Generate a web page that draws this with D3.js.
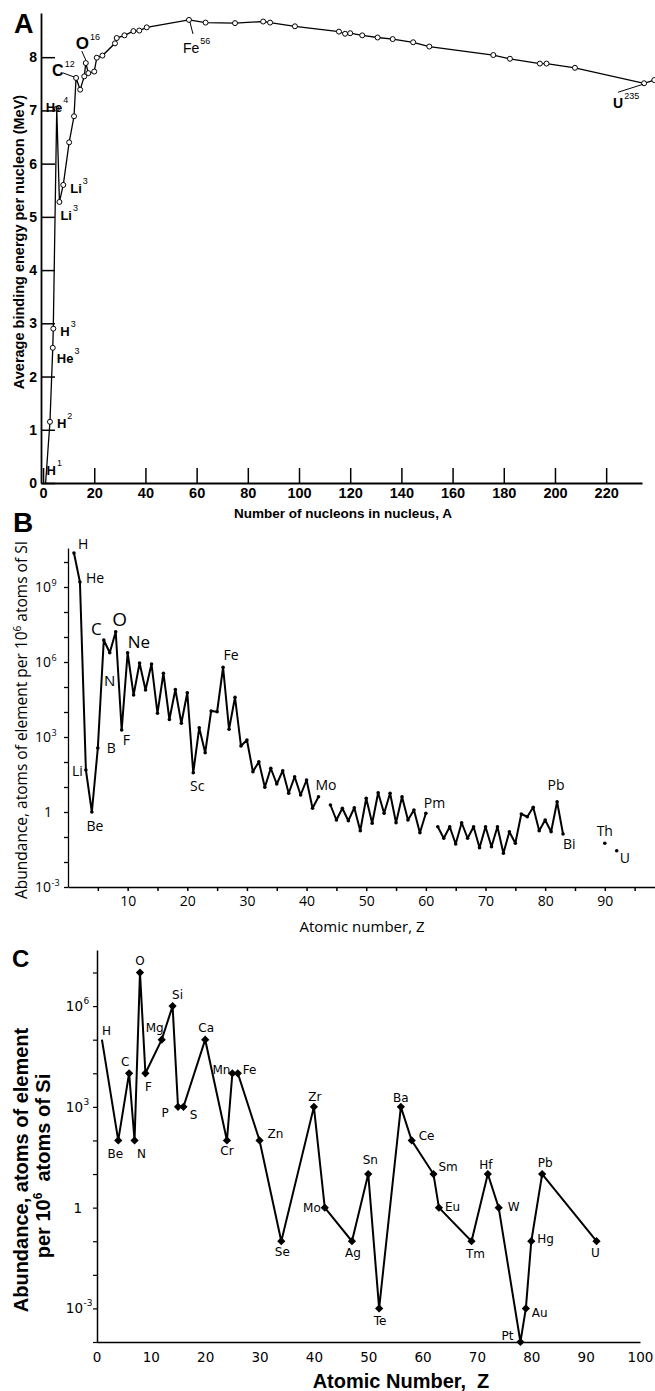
<!DOCTYPE html>
<html>
<head>
<meta charset="utf-8">
<script src="https://cdn.jsdelivr.net/npm/d3@7"></script>
<style>
  body { margin: 0; background: #fff; }
  svg { display: block; }
  text { fill: #000; }
  .bold { font-family: "Liberation Sans", Arial, sans-serif; font-weight: bold; }
  .myr { font-family: "Open Sans", sans-serif; }
  .dv { font-family: "DejaVu Sans", sans-serif; }
</style>
</head>
<body>
<svg id="fig" width="655" height="1391"></svg>
<script>
// ---------- panel A : binding energy per nucleon ----------
var aMass = [1, 2.7, 3.8, 4, 5.35, 6.4, 7.9, 10.2, 12.1, 12.9, 14.5, 16.1, 16.7, 17.7, 20, 21, 23.2,
  28.1, 28.8, 31.8, 35.3, 37.6, 40.5, 57, 63.5, 75, 86, 88.7, 98.4, 115.6, 118, 120, 124.7, 130.7,
  136.6, 144.6, 150.9, 175.9, 182.4, 194.1, 196.7, 207.8, 234.8, 238.8];
var aEnergy = [0, 1.15, 2.54, 2.9, 7.03, 5.28, 5.6, 6.4, 6.89, 7.61, 7.39, 7.64, 7.89, 7.7, 7.73, 7.99, 8.03,
  8.26, 8.36, 8.41, 8.49, 8.5, 8.56, 8.7, 8.65, 8.64, 8.67, 8.65, 8.58, 8.48, 8.44, 8.45, 8.41, 8.37,
  8.34, 8.28, 8.2, 8.04, 7.97, 7.88, 7.88, 7.8, 7.51, 7.57];
var aTicksX = [0, 20, 40, 60, 80, 100, 120, 140, 160, 180, 200, 220];
var aTicksY = [0, 1, 2, 3, 4, 5, 6, 7, 8];
var aNuclide = ["H", "H", "He", "H", "He", "Li", "Li", "C", "O", "Fe", "U"];
var aMassNo = ["1", "2", "3", "3", "4", "3", "3", "12", "16", "56", "235"];
var aIndex = [0, 1, 2, 3, 4, 5, 6, 9, 12, 23, 42];

// ---------- panel B : solar system abundances, Z = 1..92 (log10 per 1e6 Si) ----------
var bZ = d3.range(1, 93);
var bLog = [10.36, 9.2, 1.68, 0.0, 2.56, 6.88, 6.37, 7.21, 3.28, 6.37,
  4.68, 5.96, 4.88, 5.92, 3.95, 5.55, 3.7, 4.9, 3.55, 4.77,
  1.57, 3.37, 2.37, 4.04, 4.01, 5.79, 3.31, 4.59, 2.64, 2.88,
  1.61, 2.01, 0.99, 1.75, 1.12, 1.65, 0.75, 1.41, 0.68, 1.28,
  0.15, 0.61, null, 0.28, -0.32, 0.15, -0.35, 0.17, -0.75, 0.55,
  -0.45, 0.77, -0.05, 0.75, -0.43, 0.61, -0.32, 0.08, -0.83, -0.05,
  null, -0.59, -1.05, -0.59, -1.28, -0.43, -1.05, -0.59, -1.43, -0.59,
  -1.39, -0.59, -1.65, -0.79, -1.25, -0.08, -0.19, 0.19, -0.75, -0.32,
  -0.79, 0.41, -0.88, null, null, null, null, null, null, -1.25,
  null, -1.55];
var bLabelText = ["H", "He", "C", "O", "Ne", "N", "Fe", "B", "F", "Li", "Be", "Sc", "Mo", "Pm", "Pb", "Bi", "Th", "U"];
var bLabelZ = [1, 2, 6, 8, 10, 7, 26, 5, 9, 3, 4, 21, 42, 60, 82, 83, 90, 92];
var bTickExp = [9, 6, 3, 0, -3];
var bTicksX = [5, 10, 15, 20, 25, 30, 35, 40, 45, 50, 55, 60, 65, 70, 75, 80, 85, 90, 95];

// ---------- panel C : selected elements ----------
var cSym = ["H", "Be", "C", "N", "O", "F", "Mg", "Si", "P", "S", "Ca", "Cr", "Mn", "Fe", "Zn", "Se", "Zr",
  "Mo", "Ag", "Sn", "Te", "Ba", "Ce", "Sm", "Eu", "Tm", "Hf", "W", "Pt", "Au", "Hg", "Pb", "U"];
var cZ = [1, 4, 6, 7, 8, 9, 12, 14, 15, 16, 20, 24, 25, 26, 30, 34, 40, 42, 47, 50, 52, 56, 58, 62, 63,
  69, 72, 74, 78, 79, 80, 82, 92];
var cLog = [5, 2, 4, 2, 7, 4, 5, 6, 3, 3, 5, 2, 4, 4, 2, -1, 3, 0, -1, 1, -3, 3, 2, 1, 0, -1, 1, 0, -4,
  -3, -1, 1, -1];
var cTicksX = [0, 10, 20, 30, 40, 50, 60, 70, 80, 90, 100];
var cTickExp = [6, 3, 0, -3];

// label layout: [dx, dy, size / anchor] relative to the point
var aLabelPos = [[1, -8, 13], [7, 6, 13], [4, 15, 13], [7, 7, 13], [-11, 3, 13], [1, 18, 13], [7, 8, 13],
  [-24, -2, 16], [-10, -14, 17], [-6, 33, 14], [-31, 25, 14]];
var aLeaders = {7: [-13, -5, -2, -1], 8: [-4, -12, 0, -3], 9: [1, 2, 4, 14], 10: [-26, 9, -1, 1]};
var bLabelPos = [[4, -4, "start", 14], [6, 1, "start", 14], [-2, -5, "end", 17], [4, -6, "middle", 19],
  [0, -5, "start", 17], [0, 33, "middle", 15], [8, -7, "middle", 14], [9, 5, "start", 14],
  [1, 15, "start", 14], [-3, 6, "end", 14], [3, 19, "middle", 14], [4, 18, "middle", 14],
  [-3, -7, "start", 14], [-2, -5, "start", 14], [-1, -12, "middle", 14], [0, 15, "start", 14],
  [0, -7, "middle", 14], [3, 12, "start", 14]];
var cLabelPos = {
  H: [0, -5, "start"], Be: [-3, 18, "middle"], C: [-4, -7, "middle"], N: [7, 18, "middle"],
  O: [0, -8, "middle"], F: [3, 18, "middle"], Mg: [-7, -8, "middle"], Si: [5, -7, "middle"],
  P: [-13, 10, "middle"], S: [10, 12, "middle"], Ca: [1, -8, "middle"], Cr: [0, 15, "middle"],
  Mn: [-2, 1, "end"], Fe: [5, 1, "start"], Zn: [8, -2, "start"], Se: [1, 15, "middle"],
  Zr: [1, -6, "middle"], Mo: [-4, 4, "end"], Ag: [1, 16, "middle"], Sn: [2, -10, "middle"],
  Te: [1, 17, "middle"], Ba: [0, -5, "middle"], Ce: [7, 0, "start"], Sm: [5, -3, "start"],
  Eu: [6, 3, "start"], Tm: [4, 17, "middle"], Hf: [-2, -5, "middle"], W: [9, 3, "start"],
  Pt: [-7, -2, "end"], Au: [6, 9, "start"], Hg: [6, 2, "start"], Pb: [3, -7, "middle"], U: [-1, 16, "middle"]
};

var svg = d3.select("#fig");

// ================= A =================
var gA = svg.append("g");
var xA = d3.scaleLinear().domain([-0.8, 234]).range([41, 642]);
var yA = d3.scaleLinear().domain([0, 8.83]).range([483, 13]);

gA.append("g")
  .attr("transform", "translate(0,483)")
  .call(d3.axisBottom(xA).tickValues(aTicksX).tickSizeInner(-15).tickSizeOuter(0).tickPadding(5))
  .call(function (g) {
    g.select(".domain").attr("stroke-width", 2);
    g.selectAll(".tick line").attr("stroke-width", 1.5);
    g.selectAll("text").attr("class", "bold").attr("font-size", 14.5).attr("fill", "#000");
  });
gA.append("g")
  .attr("transform", "translate(41,0)")
  .call(d3.axisLeft(yA).tickValues(aTicksY).tickSizeInner(-14).tickSizeOuter(0).tickPadding(4))
  .call(function (g) {
    g.select(".domain").attr("stroke-width", 1.8);
    g.selectAll(".tick line").attr("stroke-width", 1.5);
    g.selectAll("text").attr("class", "bold").attr("font-size", 14).attr("fill", "#000");
  });

var aPts = aMass.map(function (m, i) { return [xA(m), yA(aEnergy[i])]; });
gA.append("path")
  .attr("d", d3.line()(aPts))
  .attr("fill", "none").attr("stroke", "#000").attr("stroke-width", 1.3);
gA.selectAll("circle.a").data(aPts.slice(1)).enter().append("circle")
  .attr("cx", function (d) { return d[0]; })
  .attr("cy", function (d) { return d[1]; })
  .attr("r", 2.5)
  .attr("fill", "#fff").attr("stroke", "#000").attr("stroke-width", 1);

aIndex.forEach(function (idx, k) {
  var p = aPts[idx], pos = aLabelPos[k];
  var t = gA.append("text")
    .attr("class", k === 9 ? "" : "bold")
    .attr("font-family", "Liberation Sans, Arial, sans-serif")
    .attr("font-size", pos[2])
    .attr("x", p[0] + pos[0]).attr("y", p[1] + pos[1])
    .text(aNuclide[k]);
  t.append("tspan").attr("font-size", 9).attr("font-weight", "normal").attr("dy", -9).attr("dx", 1)
    .text(aMassNo[k]);
  if (aLeaders[k]) {
    var l = aLeaders[k];
    gA.append("line")
      .attr("x1", p[0] + l[0]).attr("y1", p[1] + l[1])
      .attr("x2", p[0] + l[2]).attr("y2", p[1] + l[3])
      .attr("stroke", "#000").attr("stroke-width", 1);
  }
});

gA.append("text").attr("class", "bold").attr("font-size", 27).attr("x", 14).attr("y", 33).text("A");
gA.append("text").attr("class", "bold").attr("font-size", 14.5)
  .attr("text-anchor", "middle")
  .attr("transform", "translate(24,242) rotate(-90)")
  .text("Average binding energy per nucleon (MeV)");
gA.append("text").attr("class", "bold").attr("font-size", 13.5)
  .attr("text-anchor", "middle").attr("x", 343).attr("y", 518)
  .text("Number of nucleons in nucleus, A");

// ================= B =================
var gB = svg.append("g");
var xB = d3.scaleLinear().domain([0, 98.5]).range([68, 655.5]);
var yB = d3.scaleLog().domain([1e-3, Math.pow(10, 10.56)]).range([887, 548]);

gB.append("g")
  .attr("transform", "translate(0,887)")
  .call(d3.axisBottom(xB).tickValues(bTicksX).tickSizeInner(4).tickSizeOuter(0).tickPadding(5)
    .tickFormat(function (d) { return d % 10 === 0 ? d : ""; }))
  .call(function (g) {
    g.select(".domain").attr("stroke-width", 1.3);
    g.selectAll(".tick line").attr("stroke-width", 1.5);
    g.selectAll("text").attr("class", "myr").attr("font-size", 14).attr("fill", "#000");
  });
gB.append("g")
  .attr("transform", "translate(68,0)")
  .call(d3.axisLeft(yB).tickValues(d3.range(-3, 11).map(function (e) { return Math.pow(10, e); }))
    .tickSizeInner(4).tickSizeOuter(0).tickFormat(""))
  .call(function (g) {
    g.select(".domain").attr("stroke-width", 1.3);
    g.selectAll(".tick line").attr("stroke-width", 1.3);
  });
bTickExp.forEach(function (e) {
  var y = yB(Math.pow(10, e));
  if (e === 0) {
    gB.append("text").attr("class", "myr").attr("font-size", 14).attr("text-anchor", "end")
      .attr("x", 52).attr("y", y + 5).text("1");
  } else {
    gB.append("text").attr("class", "myr").attr("font-size", 14).attr("text-anchor", "end")
      .attr("x", 51).attr("y", y + 5).text("10");
    gB.append("text").attr("class", "myr").attr("font-size", 9)
      .attr("x", 51.5).attr("y", y - 1).text(e);
  }
});

var bData = bZ.map(function (z, i) { return {z: z, v: bLog[i]}; });
gB.append("path")
  .attr("d", d3.line()
    .defined(function (d) { return d.v !== null; })
    .x(function (d) { return xB(d.z); })
    .y(function (d) { return yB(Math.pow(10, d.v)); })(bData))
  .attr("fill", "none").attr("stroke", "#000").attr("stroke-width", 2)
  .attr("stroke-linejoin", "round");
gB.selectAll("circle.b").data(bData.filter(function (d) { return d.v !== null; })).enter().append("circle")
  .attr("cx", function (d) { return xB(d.z); })
  .attr("cy", function (d) { return yB(Math.pow(10, d.v)); })
  .attr("r", 1.8).attr("fill", "#000");

bLabelText.forEach(function (s, k) {
  var z = bLabelZ[k], pos = bLabelPos[k];
  gB.append("text").attr("class", "myr").attr("fill", "#000")
    .attr("font-size", pos[3]).attr("text-anchor", pos[2])
    .attr("x", xB(z) + pos[0]).attr("y", yB(Math.pow(10, bLog[z - 1])) + pos[1])
    .text(s);
});

gB.append("text").attr("class", "bold").attr("font-size", 28).attr("x", 13).attr("y", 532).text("B");
var bYl = gB.append("text").attr("class", "myr").attr("font-size", 15.5)
  .attr("text-anchor", "middle")
  .attr("transform", "translate(27,720) rotate(-90)");
bYl.append("tspan").text("Abundance, atoms of element per 10");
bYl.append("tspan").attr("font-size", 10).attr("dy", -6).text("6");
bYl.append("tspan").attr("dy", 6).text(" atoms of SI");
gB.append("text").attr("class", "myr").attr("font-size", 15)
  .attr("text-anchor", "middle").attr("x", 362).attr("y", 932)
  .text("Atomic number, Z");

// ================= C =================
var gC = svg.append("g");
var xC = d3.scaleLinear().domain([0, 100]).range([96.5, 640]);
var yC = d3.scaleLog().domain([1e-4, Math.pow(10, 7.67)]).range([1342, 950]);

gC.append("g")
  .attr("transform", "translate(0,1342)")
  .call(d3.axisBottom(xC).tickValues(cTicksX).tickSize(0).tickPadding(10))
  .call(function (g) {
    g.select(".domain").attr("stroke-width", 1.5);
    g.selectAll("text").attr("class", "dv").attr("font-size", 13.5).attr("fill", "#000");
  });
gC.append("g")
  .attr("transform", "translate(97,0)")
  .call(d3.axisLeft(yC).tickValues(d3.range(-4, 8).map(function (e) { return Math.pow(10, e); }))
    .tickSizeInner(4).tickSizeOuter(0).tickFormat(""))
  .call(function (g) {
    g.select(".domain").attr("stroke-width", 1.5);
    g.selectAll(".tick line").attr("stroke-width", 1.2);
  });
cTickExp.forEach(function (e) {
  var y = yC(Math.pow(10, e));
  if (e === 0) {
    gC.append("text").attr("class", "dv").attr("font-size", 13.5).attr("text-anchor", "end")
      .attr("x", 82).attr("y", y + 5).text("1");
  } else {
    gC.append("text").attr("class", "dv").attr("font-size", 13.5).attr("text-anchor", "end")
      .attr("x", 83).attr("y", y + 5).text("10");
    gC.append("text").attr("class", "dv").attr("font-size", 9)
      .attr("x", 83.5).attr("y", y - 2).text(e);
  }
});

var cPts = cZ.map(function (z, i) { return [xC(z), yC(Math.pow(10, cLog[i])), cSym[i]]; });
gC.append("path")
  .attr("d", d3.line()(cPts.map(function (p) { return [p[0], p[1]]; })))
  .attr("fill", "none").attr("stroke", "#000").attr("stroke-width", 2)
  .attr("stroke-linejoin", "miter");
gC.selectAll("path.dia").data(cPts.slice(1)).enter().append("path")
  .attr("d", d3.symbol().type(d3.symbolSquare).size(34))
  .attr("transform", function (d) { return "translate(" + d[0] + "," + d[1] + ") rotate(45)"; })
  .attr("fill", "#000");
cPts.forEach(function (p) {
  var pos = cLabelPos[p[2]];
  gC.append("text").attr("class", "dv").attr("font-size", 12)
    .attr("text-anchor", pos[2])
    .attr("x", p[0] + pos[0]).attr("y", p[1] + pos[1])
    .text(p[2]);
});

gC.append("text").attr("class", "bold").attr("font-size", 24).attr("x", 12).attr("y", 967).text("C");
var cYl = gC.append("text").attr("class", "bold").attr("font-size", 20)
  .attr("text-anchor", "middle")
  .attr("transform", "translate(28,1170) rotate(-90)");
cYl.append("tspan").attr("x", 0).attr("y", 0).text("Abundance, atoms of element");
var cY2 = gC.append("text").attr("class", "bold").attr("font-size", 20)
  .attr("text-anchor", "middle").style("white-space", "pre")
  .attr("transform", "translate(50,1166) rotate(-90)");
cY2.append("tspan").text("per 10");
cY2.append("tspan").attr("font-size", 12).attr("dy", -8).text("6");
cY2.append("tspan").attr("dy", 8).text("  atoms of Si");
gC.append("text").attr("class", "bold").attr("font-size", 20).style("white-space", "pre")
  .attr("text-anchor", "middle").attr("x", 401).attr("y", 1388)
  .text("Atomic Number,  Z");
</script>
</body>
</html>
